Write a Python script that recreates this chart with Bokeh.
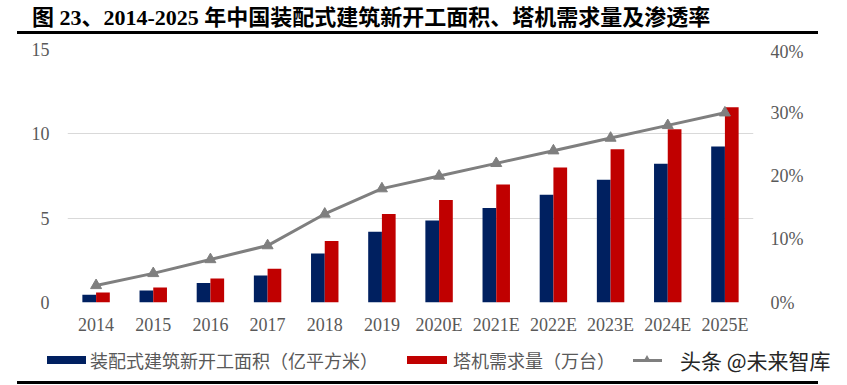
from bokeh.plotting import figure
from bokeh.layouts import column
from bokeh.models import (FactorRange, Range1d, LinearAxis, FixedTicker, PrintfTickFormatter,
                          ColumnDataSource, Div)
from bokeh.transform import dodge
from bokeh.embed import file_html
from bokeh.resources import INLINE

years = ["2014", "2015", "2016", "2017", "2018", "2019", "2020E", "2021E", "2022E", "2023E", "2024E", "2025E"]
area = [0.46, 0.71, 1.15, 1.6, 2.9, 4.19, 4.86, 5.6, 6.39, 7.28, 8.22, 9.25]
cranes = [0.59, 0.89, 1.42, 2.0, 3.64, 5.24, 6.08, 7.0, 8.0, 9.09, 10.27, 11.57]
rate = [2.7, 4.6, 6.8, 9.0, 14.0, 18.0, 20.0, 22.0, 24.0, 26.0, 28.0, 30.0]
left_ticks = [0, 5, 10, 15]
right_ticks = [0, 10, 20, 30, 40]

title_text = "图 23、2014-2025 年中国装配式建筑新开工面积、塔机需求量及渗透率"
name_area = "装配式建筑新开工面积（亿平方米）"
name_cranes = "塔机需求量（万台）"
watermark = "头条 @未来智库"

NAVY = "#002060"
RED = "#C00000"
GREY = "#7F7F7F"
serif = "Liberation Serif"
grey_txt = "#595959"
W = 847

# ---------- title strip (HTML) ----------
title_html = (
    '<div style="position:relative;width:847px;height:41px;overflow:visible;">'
    '<div style="position:absolute;left:32px;top:5px;white-space:nowrap;'
    "font-family:'Liberation Serif','Noto Sans CJK SC',serif;font-weight:bold;"
    'font-size:22px;line-height:26px;color:#000;">' + title_text + '</div>'
    '<div style="position:absolute;left:17px;top:31px;width:801px;height:3px;background:#000;"></div>'
    '</div>'
)
top_div = Div(text=title_html, width=W, height=41, margin=0)

# ---------- main chart ----------
src = ColumnDataSource(dict(x=years, area=area, cranes=cranes, rate=rate))
p = figure(x_range=FactorRange(*years, range_padding=0, factor_padding=0),
           y_range=Range1d(0, 15), width=W, height=299,
           output_backend="svg", toolbar_location=None,
           min_border_left=67, min_border_right=94, min_border_top=8, min_border_bottom=38)
p.extra_y_ranges = {"pct": Range1d(0, 40)}
p.outline_line_color = None

p.vbar(x=dodge("x", -0.12, range=p.x_range), top="area", width=0.24, source=src,
       fill_color=NAVY, line_color=None)
p.vbar(x=dodge("x", 0.12, range=p.x_range), top="cranes", width=0.24, source=src,
       fill_color=RED, line_color=None)
p.line(x="x", y="rate", source=src, y_range_name="pct", line_color=GREY, line_width=3)
p.scatter(x="x", y="rate", source=src, y_range_name="pct", marker="triangle", size=11,
          fill_color=GREY, line_color=GREY)

for ax in (p.xaxis[0], p.yaxis[0]):
    ax.axis_line_color = None
    ax.major_tick_line_color = None
    ax.minor_tick_line_color = None
    ax.major_tick_out = 0
    ax.major_label_text_font = serif
    ax.major_label_text_font_size = "18px"
    ax.major_label_text_color = grey_txt
p.xaxis.major_label_standoff = 12
p.yaxis.ticker = FixedTicker(ticks=left_ticks)
p.yaxis.major_label_standoff = 18

ax_r = LinearAxis(y_range_name="pct", ticker=FixedTicker(ticks=right_ticks),
                  formatter=PrintfTickFormatter(format="%d%%"))
ax_r.axis_line_color = None
ax_r.major_tick_line_color = None
ax_r.minor_tick_line_color = None
ax_r.major_tick_out = 0
ax_r.major_label_standoff = 17
ax_r.major_label_text_font = serif
ax_r.major_label_text_font_size = "18px"
ax_r.major_label_text_color = grey_txt
p.add_layout(ax_r, "right")

p.xgrid.grid_line_color = None
p.ygrid.ticker = FixedTicker(ticks=left_ticks)
p.ygrid.grid_line_color = "#D9D9D9"
p.ygrid.grid_line_width = 1

# ---------- legend strip (HTML) ----------
lab = ("position:absolute;top:10px;white-space:nowrap;font-family:'Noto Sans CJK SC',sans-serif;"
       "font-size:18px;line-height:20px;color:" + grey_txt + ";")
legend_html = (
    '<div style="position:relative;width:847px;height:45px;overflow:visible;">'
    '<div style="position:absolute;left:47px;top:16px;width:39px;height:8px;background:' + NAVY + ';"></div>'
    '<div style="' + lab + 'left:90px;">' + name_area + '</div>'
    '<div style="position:absolute;left:407px;top:16px;width:40px;height:8px;background:' + RED + ';"></div>'
    '<div style="' + lab + 'left:453px;">' + name_cranes + '</div>'
    '<div style="position:absolute;left:633px;top:19px;width:29px;height:3px;background:' + GREY + ';"></div>'
    '<div style="position:absolute;left:643px;top:15px;width:0;height:0;border-left:4px solid transparent;'
    'border-right:4px solid transparent;border-bottom:7px solid ' + GREY + ';"></div>'
    '<div style="position:absolute;left:680px;top:8px;white-space:nowrap;'
    "font-family:'Noto Sans CJK SC',sans-serif;font-size:21px;line-height:24px;color:#262626;\">"
    + watermark + '</div>'
    '<div style="position:absolute;left:17px;top:41px;width:801px;height:3px;background:#000;"></div>'
    '</div>'
)
bottom_div = Div(text=legend_html, width=W, height=45, margin=0)

layout = column(top_div, p, bottom_div, spacing=0)
open("out.html", "w").write(file_html(layout, INLINE))
